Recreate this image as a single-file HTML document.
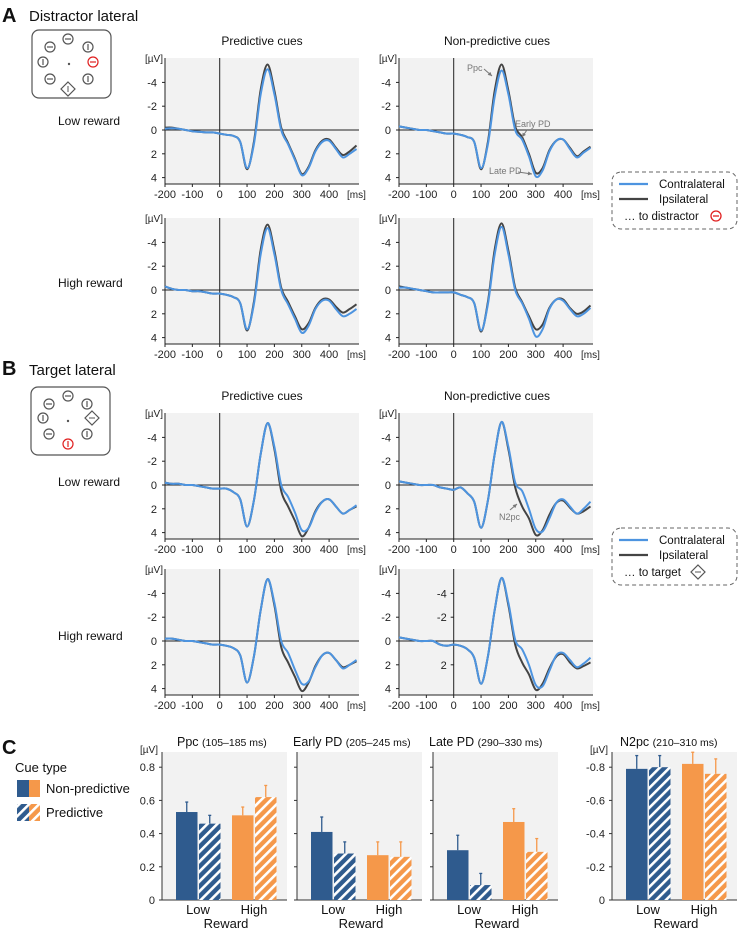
<!DOCTYPE html>
<html><head><meta charset="utf-8"><style>
body{margin:0;background:#fff;}
svg{display:block;font-family:"Liberation Sans",Arial,sans-serif;}
</style></head><body>
<svg id="fig" width="739" height="930" viewBox="0 0 739 930"></svg>
<script>
// ---- ERP data (µV, negative up) sampled every 25 ms from -200 to 500 ----
const times = [-200,-175,-150,-125,-100,-75,-50,-25,0,25,50,75,100,125,150,175,200,225,250,275,300,325,350,375,400,425,450,475,500];
const a1PredContra = [-0.1,-0.15,-0.1,0,0.1,0.15,0.2,0.2,0.3,0.4,0.5,1.0,3.2,1.2,-3.0,-5.1,-3.0,0.0,1.2,2.5,3.8,3.2,1.8,1.0,0.9,1.6,2.3,2.0,1.6];
const a1PredIpsi   = [-0.2,-0.2,-0.1,0,0.1,0.15,0.2,0.2,0.3,0.4,0.5,1.0,3.3,1.0,-3.4,-5.5,-3.3,-0.2,1.1,2.4,3.7,3.1,1.7,0.9,0.8,1.5,2.1,1.8,1.3];
const a1NonContra  = [-0.3,-0.2,-0.1,0,0,0.1,0.2,0.3,0.3,0.4,0.6,1.0,3.2,1.2,-2.8,-5.0,-3.0,0.0,0.8,2.2,3.9,3.4,1.8,0.9,0.8,1.6,2.3,1.9,1.5];
const a1NonIpsi    = [-0.3,-0.2,-0.1,0,0,0.1,0.2,0.3,0.3,0.4,0.6,1.0,3.3,1.0,-3.3,-5.5,-3.3,-0.3,0.6,2.0,3.6,3.2,1.7,0.9,0.8,1.5,2.2,1.8,1.4];
const a2PredContra = [-0.3,-0.1,0,0,0.1,0.1,0.2,0.3,0.3,0.4,0.6,1.1,3.3,1.2,-3.0,-5.2,-3.0,0.0,1.2,2.4,3.6,3.0,1.6,0.9,0.9,1.6,2.2,2.0,1.6];
const a2PredIpsi   = [-0.3,-0.1,0,0,0.1,0.1,0.2,0.3,0.3,0.4,0.6,1.1,3.4,1.0,-3.4,-5.5,-3.3,-0.2,1.0,2.2,3.3,2.8,1.5,0.8,0.8,1.4,1.9,1.6,1.2];
const a2NonContra  = [-0.2,-0.2,-0.1,0,0.1,0.2,0.2,0.2,0.2,0.4,0.6,1.1,3.4,1.2,-3.0,-5.3,-3.0,0.0,1.1,2.4,3.9,3.3,1.6,0.8,0.9,1.6,2.2,2.0,1.5];
const a2NonIpsi    = [-0.3,-0.2,-0.1,0,0.1,0.2,0.2,0.2,0.2,0.4,0.6,1.1,3.5,1.0,-3.4,-5.6,-3.3,-0.2,1.0,2.2,3.3,2.9,1.5,0.8,0.8,1.5,2.0,1.8,1.3];
const b1PredContra = [-0.2,-0.1,-0.1,0,0,0.1,0.2,0.3,0.3,0.3,0.6,1.2,3.5,1.3,-2.6,-5.2,-3.2,0.0,1.0,2.3,3.8,3.6,2.3,1.4,1.2,1.8,2.4,2.1,1.7];
const b1PredIpsi   = [-0.2,-0.1,-0.1,0,0,0.1,0.2,0.3,0.3,0.3,0.6,1.2,3.5,1.3,-2.6,-5.2,-3.0,0.5,1.8,3.0,4.3,3.6,2.2,1.4,1.2,1.8,2.4,2.1,1.8];
const b1NonContra  = [-0.3,-0.2,-0.1,0,0,0,0.2,0.3,0.4,0.2,0.7,1.4,3.6,1.3,-2.6,-5.3,-3.2,-0.2,0.5,2.0,3.7,3.9,2.8,1.5,1.2,1.8,2.4,2.0,1.4];
const b1NonIpsi    = [-0.3,-0.2,-0.1,0,0,0,0.2,0.3,0.4,0.2,0.7,1.4,3.6,1.3,-2.6,-5.3,-3.0,0.2,1.8,2.8,4.2,3.8,2.5,1.5,1.3,1.9,2.4,2.2,1.8];
const b2PredContra = [-0.2,-0.2,-0.1,0,0,0.1,0.2,0.3,0.3,0.4,0.6,1.2,3.5,1.3,-2.6,-5.2,-3.2,0.0,1.0,2.4,3.6,3.4,2.2,1.2,1.0,1.6,2.3,2.0,1.6];
const b2PredIpsi   = [-0.2,-0.2,-0.1,0,0,0.1,0.2,0.3,0.3,0.4,0.6,1.2,3.5,1.3,-2.6,-5.2,-3.0,0.5,1.8,3.0,4.2,3.5,2.1,1.2,1.0,1.6,2.2,2.0,1.7];
const b2NonContra  = [-0.3,-0.2,-0.1,0,0,0,0.3,0.4,0.3,0.4,0.7,1.4,3.6,1.3,-2.6,-5.3,-3.2,-0.1,0.7,2.0,3.7,3.8,2.5,1.2,1.0,1.6,2.2,1.9,1.4];
const b2NonIpsi    = [-0.3,-0.2,-0.1,0,0,0,0.3,0.4,0.3,0.4,0.7,1.4,3.6,1.3,-2.6,-5.3,-3.0,0.3,1.8,2.8,4.1,3.6,2.3,1.3,1.1,1.8,2.3,2.1,1.8];
const erpXTicks = [-200,-100,0,100,200,300,400];
const erpYTicks = [-4,-2,0,2,4];

// ---- Bar data ----
const barPanels = ["Ppc","Early PD","Late PD","N2pc"];
const barWindows = ["(105–185 ms)","(205–245 ms)","(290–330 ms)","(210–310 ms)"];
const lowNonPred = [0.53,0.41,0.30,0.79];
const lowPred    = [0.46,0.28,0.09,0.80];
const highNonPred= [0.51,0.27,0.47,0.82];
const highPred   = [0.62,0.26,0.29,0.76];
const lowNonPredErr = [0.06,0.09,0.09,0.08];
const lowPredErr    = [0.05,0.07,0.07,0.07];
const highNonPredErr= [0.05,0.08,0.08,0.07];
const highPredErr   = [0.07,0.09,0.08,0.09];
const barYTicks = [0,0.2,0.4,0.6,0.8];

const NS="http://www.w3.org/2000/svg";
const svg=document.getElementById('fig');
function el(tag,attrs,parent,text){const e=document.createElementNS(NS,tag);for(const k in attrs)e.setAttribute(k,attrs[k]);if(text!==undefined)e.textContent=text;(parent||svg).appendChild(e);return e;}

// defs: hatch patterns
const defs=el('defs',{});
function hatch(id,color){const p=el('pattern',{id:id,width:7,height:7,patternUnits:'userSpaceOnUse',patternTransform:'rotate(45)'},defs);el('rect',{x:0,y:0,width:7,height:7,fill:color},p);el('rect',{x:0,y:0,width:2.6,height:7,fill:'#fff'},p);}
hatch('hb','#2f5b8e');hatch('ho','#f5984a');

const BLUE='#2f5b8e',ORANGE='#f5984a',CONTRA='#4d94e0',IPSI='#444';

function smoothPath(pts){let d='M'+pts[0][0].toFixed(1)+','+pts[0][1].toFixed(1);for(let i=0;i<pts.length-1;i++){const p0=pts[i-1]||pts[i],p1=pts[i],p2=pts[i+1],p3=pts[i+2]||p2;const c1=[p1[0]+(p2[0]-p0[0])/6,p1[1]+(p2[1]-p0[1])/6],c2=[p2[0]-(p3[0]-p1[0])/6,p2[1]-(p3[1]-p1[1])/6];d+=' C'+c1[0].toFixed(1)+','+c1[1].toFixed(1)+' '+c2[0].toFixed(1)+','+c2[1].toFixed(1)+' '+p2[0].toFixed(1)+','+p2[1].toFixed(1);}return d;}

function erpPanel(name,left,zero,contra,ipsi,extraAxis){
  const g=el('g',{});
  
  
  const W=194,top=zero-72,bottom=zero+54;
  const xs=t=>left+(t+200)*0.2735;
  const ys=v=>zero+v*11.9;
  el('rect',{x:left,y:top,width:W,height:bottom-top,fill:'#f2f2f2'},g);
  // y axis
  el('line',{x1:left,y1:top,x2:left,y2:bottom,stroke:'#222','stroke-width':1},g);
  el('line',{x1:left,y1:bottom,x2:left+W,y2:bottom,stroke:'#222','stroke-width':1},g);
  const yl=el('text',{x:left-2,y:top+4,'font-size':10,'text-anchor':'end',fill:'#222'},g,'[µV]');
  
  erpYTicks.forEach(v=>{el('line',{x1:left-3,y1:ys(v),x2:left,y2:ys(v),stroke:'#222'},g);
    const t=el('text',{x:left-8,y:ys(v)+4,'font-size':11,'text-anchor':'end',fill:'#222'},g,String(v));
    });
  erpXTicks.forEach(v=>{el('line',{x1:xs(v),y1:bottom,x2:xs(v),y2:bottom+3,stroke:'#222'},g);
    const t=el('text',{x:xs(v),y:bottom+14,'font-size':11,'text-anchor':'middle',fill:'#222'},g,String(v));
    });
  const ms=el('text',{x:xs(500),y:bottom+14,'font-size':10,'text-anchor':'middle',fill:'#222'},g,'[ms]');
  
  // zero lines
  el('line',{x1:left,y1:zero,x2:left+W,y2:zero,stroke:'#222','stroke-width':1},g);
  el('line',{x1:xs(0),y1:top,x2:xs(0),y2:bottom,stroke:'#222','stroke-width':1},g);
  if(extraAxis){[-4,-2,2].forEach(v=>{el('line',{x1:xs(0)-3,y1:ys(v),x2:xs(0),y2:ys(v),stroke:'#222'},g);el('text',{x:xs(0)-7,y:ys(v)+4,'font-size':11,'text-anchor':'end',fill:'#222'},g,String(v));});}
  const ip=el('path',{d:smoothPath(times.map((t,i)=>[xs(t),ys(ipsi[i])])),fill:'none',stroke:IPSI,'stroke-width':2},g);
  
  const co=el('path',{d:smoothPath(times.map((t,i)=>[xs(t),ys(contra[i])])),fill:'none',stroke:CONTRA,'stroke-width':2},g);
  
  return g;
}
const L1=165,L2=399;
erpPanel('erp-distractor-low-predictive',L1,130,a1PredContra,a1PredIpsi);
erpPanel('erp-distractor-low-nonpredictive',L2,130,a1NonContra,a1NonIpsi);
erpPanel('erp-distractor-high-predictive',L1,290,a2PredContra,a2PredIpsi);
erpPanel('erp-distractor-high-nonpredictive',L2,290,a2NonContra,a2NonIpsi);
erpPanel('erp-target-low-predictive',L1,485,b1PredContra,b1PredIpsi);
erpPanel('erp-target-low-nonpredictive',L2,485,b1NonContra,b1NonIpsi);
erpPanel('erp-target-high-predictive',L1,641,b2PredContra,b2PredIpsi);
erpPanel('erp-target-high-nonpredictive',L2,641,b2NonContra,b2NonIpsi,true);

// annotations
function arrow(x1,y1,x2,y2){el('line',{x1:x1,y1:y1,x2:x2,y2:y2,stroke:'#777','stroke-width':1});const a=Math.atan2(y2-y1,x2-x1);el('polygon',{points:`${x2},${y2} ${x2-4*Math.cos(a)+2*Math.sin(a)},${y2-4*Math.sin(a)-2*Math.cos(a)} ${x2-4*Math.cos(a)-2*Math.sin(a)},${y2-4*Math.sin(a)+2*Math.cos(a)}`,fill:'#777'});}
</script>
<svg width="0" height="0"></svg>
<script>
(function(){
const t=(x,y,s,txt,name,extra)=>{const e=el('text',Object.assign({x:x,y:y,'font-size':s,fill:'#111'},extra||{}),svg,txt);return e;};
t(467,71,9,'Ppc','annotation-ppc',{fill:'#777'});arrow(484,69,492,76);
t(515,127,9,'Early PD','annotation-early-pd',{fill:'#777'});arrow(527,130,522,137);
t(489,174,9,'Late PD','annotation-late-pd',{fill:'#777'});arrow(518,172,532,174);
t(499,520,9,'N2pc','annotation-n2pc',{fill:'#777'});arrow(510,510,517,504);
// section labels
t(2,22,20,'A','panel-label-a',{'font-weight':'bold'});
t(29,21,15,'Distractor lateral','section-title-distractor');
t(2,375,20,'B','panel-label-b',{'font-weight':'bold'});
t(29,375,15,'Target lateral','section-title-target');
t(2,754,20,'C','panel-label-c',{'font-weight':'bold'});
[[262,45],[497,45]].forEach((p,i)=>t(p[0],p[1],12,i?'Non-predictive cues':'Predictive cues','column-title',{'text-anchor':'middle'}));
[[262,400],[497,400]].forEach((p,i)=>t(p[0],p[1],12,i?'Non-predictive cues':'Predictive cues','column-title',{'text-anchor':'middle'}));
t(58,125,12,'Low reward','row-label-low');
t(58,287,12,'High reward','row-label-high');
t(58,486,12,'Low reward','row-label-low');
t(58,640,12,'High reward','row-label-high');
// stimulus displays
function stim(bx,by,items,name){const g=el('g',{});
 el('rect',{x:bx,y:by,width:79,height:68,rx:7,fill:'#fff',stroke:'#555','stroke-width':1.2},g);
 items.forEach(it=>{const [x,y,type,red]=it;const c=red?'#e02020':'#555';
  if(type==='D'){el('polygon',{points:`${x},${y-7} ${x+7},${y} ${x},${y+7} ${x-7},${y}`,fill:'#fff',stroke:c,'stroke-width':1.2},g);
    if(it[4]==='H')el('line',{x1:x-3,y1:y,x2:x+3,y2:y,stroke:c},g);else el('line',{x1:x,y1:y-3,x2:x,y2:y+3,stroke:c},g);}
  else{el('circle',{cx:x,cy:y,r:5,fill:'#fff',stroke:c,'stroke-width':1.2},g);
    if(type==='H')el('line',{x1:x-3,y1:y,x2:x+3,y2:y,stroke:c,'stroke-width':1.2},g);else el('line',{x1:x,y1:y-3,x2:x,y2:y+3,stroke:c,'stroke-width':1.2},g);}});
 el('circle',{cx:bx+37,cy:by+34,r:1.2,fill:'#555'},g);}
stim(32,30,[[68,39,'H'],[50,47,'H'],[88,47,'V'],[43,62,'V'],[93,62,'H',true],[50,79,'H'],[88,79,'V'],[68,89,'D',false,'V']],'distractor-display');
stim(31,387,[[68,396,'H'],[49,404,'H'],[87,404,'V'],[43,418,'V'],[92,418,'D',false,'H'],[49,434,'H'],[87,434,'V'],[68,444,'V',true]],'target-display');
// legends
function legend(y,label,name,diamond){const g=el('g',{});
 el('rect',{x:612,y:y,width:125,height:57,rx:9,fill:'#fff',stroke:'#666','stroke-dasharray':'4,3'},g);
 el('line',{x1:619,y1:y+12,x2:648,y2:y+12,stroke:CONTRA,'stroke-width':2.2},g);
 el('line',{x1:619,y1:y+27,x2:648,y2:y+27,stroke:IPSI,'stroke-width':2.2},g);
 el('text',{x:659,y:y+16,'font-size':11.5,fill:'#111'},g,'Contralateral');
 el('text',{x:659,y:y+31,'font-size':11.5,fill:'#111'},g,'Ipsilateral');
 el('text',{x:624,y:y+48,'font-size':11.5,fill:'#111'},g,label);
 if(diamond){const x=698,yy=y+44;el('polygon',{points:`${x},${yy-7} ${x+7},${yy} ${x},${yy+7} ${x-7},${yy}`,fill:'#fff',stroke:'#555','stroke-width':1.2},g);el('line',{x1:x-3,y1:yy,x2:x+3,y2:yy,stroke:'#555'},g);}
 else{el('circle',{cx:716,cy:y+44,r:5,fill:'#fff',stroke:'#e02020','stroke-width':1.3},g);el('line',{x1:713,y1:y+44,x2:719,y2:y+44,stroke:'#e02020','stroke-width':1.3},g);}}
legend(172,'… to distractor','legend-distractor',false);
legend(528,'… to target','legend-target',true);
// cue type legend
t(15,772,13,'Cue type','legend-title-cue-type');
el('rect',{x:17,y:780,width:12,height:17,fill:BLUE});el('rect',{x:29,y:780,width:11,height:17,fill:ORANGE});
el('rect',{x:17,y:804,width:12,height:17,fill:'url(#hb)'});el('rect',{x:29,y:804,width:11,height:17,fill:'url(#ho)'});
t(46,793,13,'Non-predictive','legend-entry-nonpredictive');
t(46,817,13,'Predictive','legend-entry-predictive');
// bar panels
const lefts=[162,297,433,612],W=125,base=900,scale=166,top=752;
barPanels.forEach((p,i)=>{const g=el('g',{});
 const L=lefts[i];const ys=v=>base-v*scale;
 el('rect',{x:L,y:top,width:W,height:base-top,fill:'#f2f2f2'},g);
 el('line',{x1:L,y1:top,x2:L,y2:base,stroke:'#333'},g);
 el('line',{x1:L,y1:base,x2:L+W,y2:base,stroke:'#333'},g);
 barYTicks.forEach(v=>{el('line',{x1:L-3,y1:ys(v),x2:L,y2:ys(v),stroke:'#333'},g);
  if(i===0||i===3){const lab=i===3&&v!==0?'-'+v.toFixed(1):(v===0?'0':v.toFixed(1));const tt=el('text',{x:L-7,y:ys(v)+4,'font-size':11,'text-anchor':'end',fill:'#222'},g,lab);}});
 if(i===0||i===3)el('text',{x:L-4,y:top+1,'font-size':10,'text-anchor':'end',fill:'#222'},g,'[µV]');
 const tx=i===0?L+15:(i===3?L+8:L-4);
 const ti=el('text',{x:tx,y:746,'font-size':12.5,fill:'#111'},g);
 el('tspan',{},ti,p+' ');el('tspan',{'font-size':10.5},ti,barWindows[i]);
 
 const bw=21.5;
 const bars=[[lowNonPred,lowNonPredErr,L+14,BLUE,'bar-low-nonpredictive'],[lowPred,lowPredErr,L+37,'url(#hb)','bar-low-predictive'],[highNonPred,highNonPredErr,L+70,ORANGE,'bar-high-nonpredictive'],[highPred,highPredErr,L+93,'url(#ho)','bar-high-predictive']];
 bars.forEach(b=>{const v=b[0][i],e=b[1][i],x=b[2];const ec=(b[3]===BLUE||b[3]==='url(#hb)')?BLUE:ORANGE;
  el('line',{x1:x+bw/2,y1:ys(v),x2:x+bw/2,y2:ys(v+e),stroke:ec,'stroke-width':1.3},g);
  el('line',{x1:x+bw/2-1.5,y1:ys(v+e),x2:x+bw/2+1.5,y2:ys(v+e),stroke:ec,'stroke-width':1.3},g);
  const r=el('rect',{x:x,y:ys(v),width:bw,height:v*scale,fill:b[3]},g);
  });
 el('text',{x:L+36,y:914,'font-size':13,'text-anchor':'middle',fill:'#111'},g,'Low');
 el('text',{x:L+92,y:914,'font-size':13,'text-anchor':'middle',fill:'#111'},g,'High');
 el('text',{x:L+64,y:928,'font-size':13,'text-anchor':'middle',fill:'#111'},g,'Reward');
});
})();
</script>
</body></html>
